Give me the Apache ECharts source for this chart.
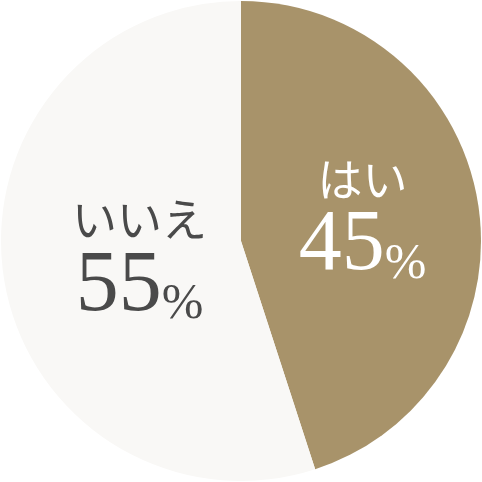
<!DOCTYPE html>
<html>
<head>
<meta charset="utf-8">
<script src="https://cdn.jsdelivr.net/npm/echarts@6/dist/echarts.min.js"></script>
<style>
html,body{margin:0;padding:0;background:#ffffff;}
#c{width:482px;height:482px;}
</style>
</head>
<body>
<div id="c"></div>
<script>
var categories = ['はい', 'いいえ'];
var values = [45, 55];
var colors = ['#a8936a', '#f9f8f6'];
var textColors = ['#ffffff', '#4a4a4a'];
var labelOffsets = [[0, 0], [20, 2]];

var chart = echarts.init(document.getElementById('c'));
var data = categories.map(function (c, i) {
  return {
    name: c,
    value: values[i],
    itemStyle: { color: colors[i] },
    label: {
      offset: labelOffsets[i],
      rich: {
        name: { color: textColors[i], fontSize: 45, lineHeight: 52, fontFamily: '"Noto Sans CJK JP"', align: 'center' },
        num: { color: textColors[i], fontSize: 86, lineHeight: 84, fontFamily: '"Liberation Serif"', verticalAlign: 'bottom' },
        pct: { color: textColors[i], fontSize: 50, lineHeight: 70, fontFamily: '"Liberation Serif"', verticalAlign: 'bottom' }
      }
    }
  };
});

chart.setOption({
  animation: false,
  series: [{
    type: 'pie',
    radius: [0, 240],
    center: ['50%', '50%'],
    startAngle: 90,
    clockwise: true,
    silent: true,
    label: {
      show: true,
      position: 'inside',
      align: 'center',
      formatter: function (p) {
        return '{name|' + p.name + '}\n{num|' + p.value + '}{pct|%}';
      }
    },
    labelLine: { show: false },
    data: data
  }]
});
</script>
</body>
</html>
